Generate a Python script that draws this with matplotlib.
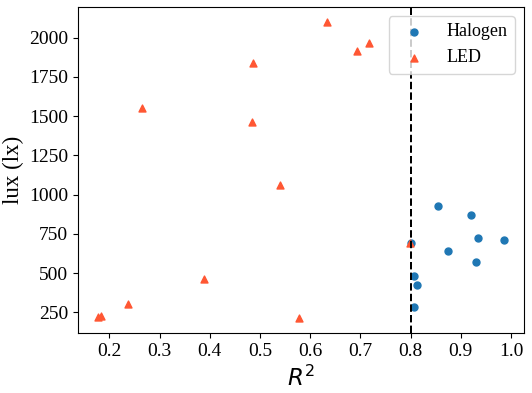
import matplotlib
matplotlib.use("Agg")
import matplotlib.pyplot as plt
from matplotlib.ticker import MultipleLocator

plt.rcParams['font.family'] = ['Liberation Serif', 'DejaVu Serif']
plt.rcParams['mathtext.fontset'] = 'dejavusans'

halogen_r2 = [0.854, 0.920, 0.934, 0.985, 0.874, 0.930, 0.806, 0.813, 0.806, 0.800]
halogen_lux = [931, 873, 727, 714, 644, 574, 481, 422, 282, 693]

led_r2 = [0.178, 0.184, 0.237, 0.388, 0.577, 0.265, 0.485, 0.539, 0.487, 0.633, 0.694, 0.717, 0.799]
led_lux = [220, 225, 307, 466, 212, 1555, 1465, 1064, 1840, 2100, 1912, 1965, 693]

threshold = 0.8

fig = plt.figure(figsize=(5.32, 3.93), dpi=100)
ax = fig.add_axes([0.1466, 0.152, 0.838, 0.830])

ax.scatter(halogen_r2, halogen_lux, s=25, color='#1f77b4', marker='o', label='Halogen')
ax.scatter(led_r2, led_lux, s=25, color='#FF5733', marker='^', label='LED')
ax.axvline(threshold, color='black', linestyle='--', linewidth=1.44)

ax.xaxis.set_major_locator(MultipleLocator(0.1))
ax.yaxis.set_major_locator(MultipleLocator(250))
ax.set_xlabel('$R^2$', fontsize=16.5)
ax.set_ylabel('lux (lx)', fontsize=16.5)
ax.tick_params(labelsize=14)
ax.legend(loc='upper right', fontsize=13)

fig.savefig('out.png', dpi=100)
